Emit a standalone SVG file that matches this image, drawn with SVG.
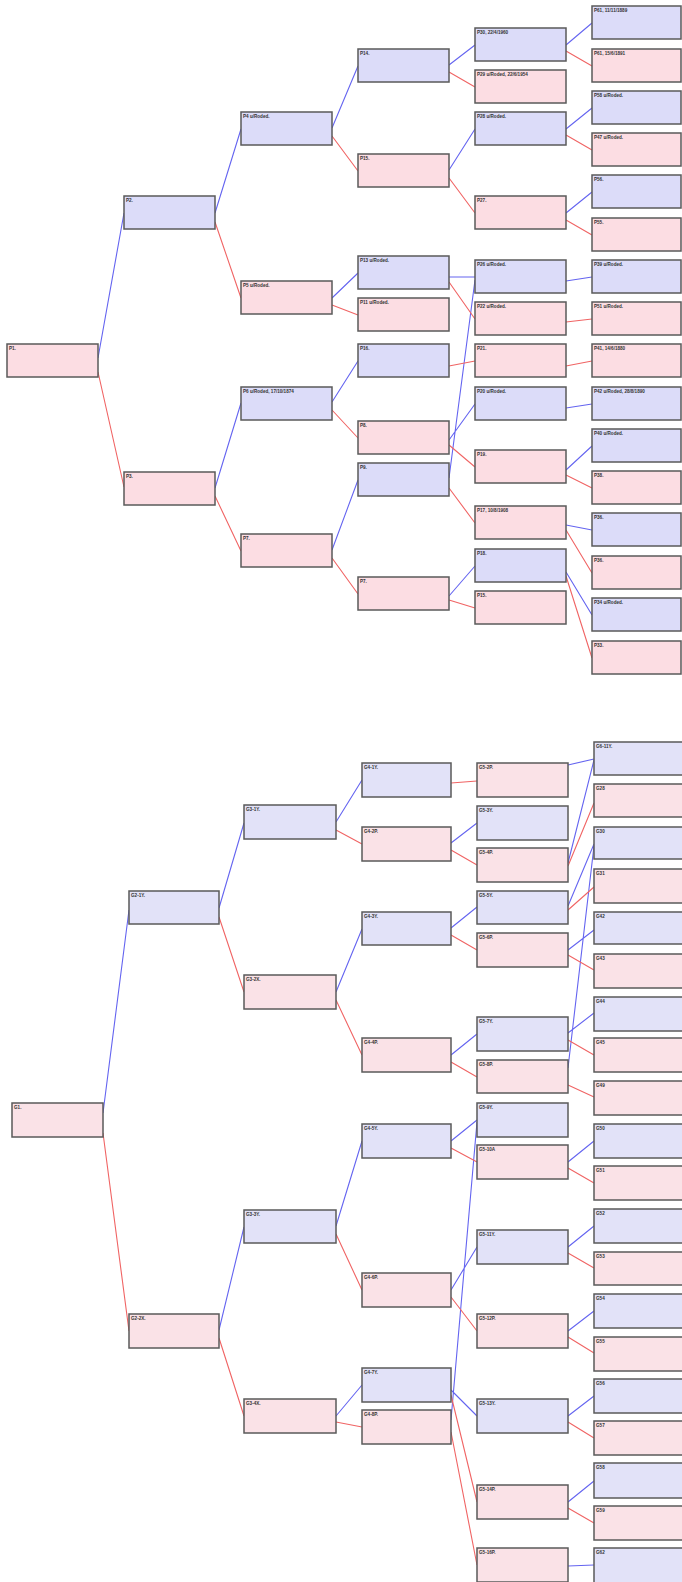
<svg xmlns="http://www.w3.org/2000/svg" width="682" height="1582" viewBox="0 0 682 1582">
<style>
rect{stroke:#5a5a5a;stroke-width:1.5}
.b{fill:#dcdcf9}.p{fill:#fcdde3}
.bb{fill:#e2e2f8}.pp{fill:#fae2e7}
text{font-family:"Liberation Sans",Arial,sans-serif;font-size:4.6px;font-weight:bold;fill:#333}
.lb{stroke:#6464f0;stroke-width:1.1;fill:none}
.lr{stroke:#f06464;stroke-width:1.1;fill:none}
</style>
<rect x="0" y="0" width="682" height="1582" style="fill:#fff;stroke:none"/>
<g id="connectors">
<g class="lb">
<path d="M98 358L124 213M215 213L241 129M215 488L241 403M332 128L358 66M332 298L358 273M332 402L358 361M332 550L358 480M449 65L475 45M449 170L475 129M449 277L475 277M449 440L475 404M449 478L475 280M449 596L475 566M566 45L592 23M566 129L592 108M566 213L592 192M566 281L592 277M566 408L592 404M566 470L592 446M566 525L592 530M566 572L592 615"/>
<path d="M103 1113L129 910M219 908L244 823M219 1330L244 1227M336 822L362 780M336 992L362 929M336 1226L362 1141M336 1416L362 1385M451 843L477 823M451 928L477 907M451 1055L477 1034M451 1141L477 1120M451 1290L477 1247M451 1390L477 1416M451 1420L477 1122M568 765L594 759M568 863L594 760M568 906L594 844M568 950L594 930M568 1033L594 1013M568 1068L594 846M568 1162L594 1141M568 1247L594 1226M568 1331L594 1311M568 1416L594 1396M568 1502L594 1481M568 1566L594 1565"/>
</g>
<g class="lr">
<path d="M98 372L124 487M215 222L241 298M215 496L241 551M332 136L358 171M332 305L358 315M332 410L358 438M332 558L358 594M449 72L475 87M449 178L475 213M449 282L475 319M449 366L475 361M449 445L475 467M449 488L475 523M449 600L475 608M566 51L592 66M566 135L592 150M566 220L592 235M566 322L592 319M566 366L592 361M566 475L592 488M566 530L592 573M566 576L592 658"/>
<path d="M103 1133L129 1331M219 917L244 992M219 1338L244 1416M336 830L362 844M336 1000L362 1055M336 1234L362 1290M336 1422L362 1427M451 783L477 781M451 850L477 865M451 935L477 950M451 1062L477 1077M451 1148L477 1162M451 1297L477 1331M451 1395L477 1502M451 1432L477 1565M568 866L594 803M568 910L594 887M568 955L594 970M568 1040L594 1055M568 1085L594 1097M568 1168L594 1183M568 1253L594 1268M568 1337L594 1353M568 1422L594 1438M568 1508L594 1523"/>
</g>
</g>
<g id="top-tree">
<g id="t-p1"><rect class="p" x="7" y="344" width="91" height="33"/><text x="9" y="349.5">P1.</text></g>
<g id="t-p2"><rect class="b" x="124" y="196" width="91" height="33"/><text x="126" y="201.5">P2.</text></g>
<g id="t-p3"><rect class="p" x="124" y="472" width="91" height="33"/><text x="126" y="477.5">P3.</text></g>
<g id="t-p4"><rect class="b" x="241" y="112" width="91" height="33"/><text x="243" y="117.5">P4 u/Roded.</text></g>
<g id="t-p5"><rect class="p" x="241" y="281" width="91" height="33"/><text x="243" y="286.5">P5 u/Roded.</text></g>
<g id="t-p6"><rect class="b" x="241" y="387" width="91" height="33"/><text x="243" y="392.5">P6 u/Roded, 17/10/1874</text></g>
<g id="t-p7"><rect class="p" x="241" y="534" width="91" height="33"/><text x="243" y="539.5">P7.</text></g>
<g id="t-p14"><rect class="b" x="358" y="49" width="91" height="33"/><text x="360" y="54.5">P14.</text></g>
<g id="t-p15"><rect class="p" x="358" y="154" width="91" height="33"/><text x="360" y="159.5">P15.</text></g>
<g id="t-p13"><rect class="b" x="358" y="256" width="91" height="33"/><text x="360" y="261.5">P13 u/Roded.</text></g>
<g id="t-p11"><rect class="p" x="358" y="298" width="91" height="33"/><text x="360" y="303.5">P11 u/Roded.</text></g>
<g id="t-p16"><rect class="b" x="358" y="344" width="91" height="33"/><text x="360" y="349.5">P16.</text></g>
<g id="t-p8"><rect class="p" x="358" y="421" width="91" height="33"/><text x="360" y="426.5">P8.</text></g>
<g id="t-p9"><rect class="b" x="358" y="463" width="91" height="33"/><text x="360" y="468.5">P9.</text></g>
<g id="t-p10"><rect class="p" x="358" y="577" width="91" height="33"/><text x="360" y="582.5">P7.</text></g>
<g id="t-p30"><rect class="b" x="475" y="28" width="91" height="33"/><text x="477" y="33.5">P30, 22/4/1960</text></g>
<g id="t-p29"><rect class="p" x="475" y="70" width="91" height="33"/><text x="477" y="75.5">P29 u/Roded, 22/6/1954</text></g>
<g id="t-p28"><rect class="b" x="475" y="112" width="91" height="33"/><text x="477" y="117.5">P28 u/Roded.</text></g>
<g id="t-p27"><rect class="p" x="475" y="196" width="91" height="33"/><text x="477" y="201.5">P27.</text></g>
<g id="t-p26"><rect class="b" x="475" y="260" width="91" height="33"/><text x="477" y="265.5">P26 u/Roded.</text></g>
<g id="t-p22"><rect class="p" x="475" y="302" width="91" height="33"/><text x="477" y="307.5">P22 u/Roded.</text></g>
<g id="t-p21"><rect class="p" x="475" y="344" width="91" height="33"/><text x="477" y="349.5">P21.</text></g>
<g id="t-p20"><rect class="b" x="475" y="387" width="91" height="33"/><text x="477" y="392.5">P20 u/Roded.</text></g>
<g id="t-p19"><rect class="p" x="475" y="450" width="91" height="33"/><text x="477" y="455.5">P19.</text></g>
<g id="t-p17"><rect class="p" x="475" y="506" width="91" height="33"/><text x="477" y="511.5">P17, 10/8/1908</text></g>
<g id="t-p18"><rect class="b" x="475" y="549" width="91" height="33"/><text x="477" y="554.5">P18.</text></g>
<g id="t-p12"><rect class="p" x="475" y="591" width="91" height="33"/><text x="477" y="596.5">P15.</text></g>
<g id="t-p61"><rect class="b" x="592" y="6" width="89" height="33"/><text x="594" y="11.5">P61, 11/11/1889</text></g>
<g id="t-p60"><rect class="p" x="592" y="49" width="89" height="33"/><text x="594" y="54.5">P61, 15/6/1891</text></g>
<g id="t-p58"><rect class="b" x="592" y="91" width="89" height="33"/><text x="594" y="96.5">P58 u/Roded.</text></g>
<g id="t-p57"><rect class="p" x="592" y="133" width="89" height="33"/><text x="594" y="138.5">P47 u/Roded.</text></g>
<g id="t-p56"><rect class="b" x="592" y="175" width="89" height="33"/><text x="594" y="180.5">P56.</text></g>
<g id="t-p55"><rect class="p" x="592" y="218" width="89" height="33"/><text x="594" y="223.5">P55.</text></g>
<g id="t-p52"><rect class="b" x="592" y="260" width="89" height="33"/><text x="594" y="265.5">P39 u/Roded.</text></g>
<g id="t-p51"><rect class="p" x="592" y="302" width="89" height="33"/><text x="594" y="307.5">P51 u/Roded.</text></g>
<g id="t-p41"><rect class="p" x="592" y="344" width="89" height="33"/><text x="594" y="349.5">P41, 14/6/1880</text></g>
<g id="t-p42"><rect class="b" x="592" y="387" width="89" height="33"/><text x="594" y="392.5">P42 u/Roded, 28/8/1890</text></g>
<g id="t-p40"><rect class="b" x="592" y="429" width="89" height="33"/><text x="594" y="434.5">P40 u/Roded.</text></g>
<g id="t-p38"><rect class="p" x="592" y="471" width="89" height="33"/><text x="594" y="476.5">P38.</text></g>
<g id="t-p36"><rect class="b" x="592" y="513" width="89" height="33"/><text x="594" y="518.5">P36.</text></g>
<g id="t-p35"><rect class="p" x="592" y="556" width="89" height="33"/><text x="594" y="561.5">P36.</text></g>
<g id="t-p34"><rect class="b" x="592" y="598" width="89" height="33"/><text x="594" y="603.5">P34 u/Roded.</text></g>
<g id="t-p33"><rect class="p" x="592" y="641" width="89" height="33"/><text x="594" y="646.5">P33.</text></g>
</g>
<g id="bottom-tree">
<g id="g1"><rect class="pp" x="12" y="1103" width="91" height="34"/><text x="14" y="1108.5">G1.</text></g>
<g id="g2-1"><rect class="bb" x="129" y="891" width="90" height="33"/><text x="131" y="896.5">G2-1Y.</text></g>
<g id="g2-2"><rect class="pp" x="129" y="1314" width="90" height="34"/><text x="131" y="1319.5">G2-2X.</text></g>
<g id="g3-1"><rect class="bb" x="244" y="805" width="92" height="34"/><text x="246" y="810.5">G3-1Y.</text></g>
<g id="g3-2"><rect class="pp" x="244" y="975" width="92" height="34"/><text x="246" y="980.5">G3-2X.</text></g>
<g id="g3-3"><rect class="bb" x="244" y="1210" width="92" height="33"/><text x="246" y="1215.5">G3-3Y.</text></g>
<g id="g3-4"><rect class="pp" x="244" y="1399" width="92" height="34"/><text x="246" y="1404.5">G3-4X.</text></g>
<g id="g4-1"><rect class="bb" x="362" y="763" width="89" height="34"/><text x="364" y="768.5">G4-1Y.</text></g>
<g id="g4-2"><rect class="pp" x="362" y="827" width="89" height="34"/><text x="364" y="832.5">G4-2P.</text></g>
<g id="g4-3"><rect class="bb" x="362" y="912" width="89" height="33"/><text x="364" y="917.5">G4-3Y.</text></g>
<g id="g4-4"><rect class="pp" x="362" y="1038" width="89" height="34"/><text x="364" y="1043.5">G4-4P.</text></g>
<g id="g4-5"><rect class="bb" x="362" y="1124" width="89" height="34"/><text x="364" y="1129.5">G4-5Y.</text></g>
<g id="g4-6"><rect class="pp" x="362" y="1273" width="89" height="34"/><text x="364" y="1278.5">G4-6P.</text></g>
<g id="g4-7"><rect class="bb" x="362" y="1368" width="89" height="34"/><text x="364" y="1373.5">G4-7Y.</text></g>
<g id="g4-8"><rect class="pp" x="362" y="1410" width="89" height="34"/><text x="364" y="1415.5">G4-8P.</text></g>
<g id="g5-2"><rect class="pp" x="477" y="763" width="91" height="34"/><text x="479" y="768.5">G5-2P.</text></g>
<g id="g5-3"><rect class="bb" x="477" y="806" width="91" height="34"/><text x="479" y="811.5">G5-3Y.</text></g>
<g id="g5-4"><rect class="pp" x="477" y="848" width="91" height="34"/><text x="479" y="853.5">G5-4P.</text></g>
<g id="g5-5"><rect class="bb" x="477" y="891" width="91" height="33"/><text x="479" y="896.5">G5-5Y.</text></g>
<g id="g5-6"><rect class="pp" x="477" y="933" width="91" height="34"/><text x="479" y="938.5">G5-6P.</text></g>
<g id="g5-7"><rect class="bb" x="477" y="1017" width="91" height="34"/><text x="479" y="1022.5">G5-7Y.</text></g>
<g id="g5-8"><rect class="pp" x="477" y="1060" width="91" height="33"/><text x="479" y="1065.5">G5-8P.</text></g>
<g id="g5-9"><rect class="bb" x="477" y="1103" width="91" height="34"/><text x="479" y="1108.5">G5-9Y.</text></g>
<g id="g5-10"><rect class="pp" x="477" y="1145" width="91" height="34"/><text x="479" y="1150.5">G5-10A</text></g>
<g id="g5-11"><rect class="bb" x="477" y="1230" width="91" height="34"/><text x="479" y="1235.5">G5-11Y.</text></g>
<g id="g5-12"><rect class="pp" x="477" y="1314" width="91" height="34"/><text x="479" y="1319.5">G5-12P.</text></g>
<g id="g5-13"><rect class="bb" x="477" y="1399" width="91" height="34"/><text x="479" y="1404.5">G5-13Y.</text></g>
<g id="g5-14"><rect class="pp" x="477" y="1485" width="91" height="34"/><text x="479" y="1490.5">G5-14P.</text></g>
<g id="g5-16"><rect class="pp" x="477" y="1548" width="91" height="34"/><text x="479" y="1553.5">G5-16P.</text></g>
<g id="g6-1"><rect class="bb" x="594" y="742" width="92" height="33"/><text x="596" y="747.5">G6-11Y.</text></g>
<g id="g6-2"><rect class="pp" x="594" y="784" width="92" height="33"/><text x="596" y="789.5">G28</text></g>
<g id="g6-3"><rect class="bb" x="594" y="827" width="92" height="32"/><text x="596" y="832.5">G30</text></g>
<g id="g6-4"><rect class="pp" x="594" y="869" width="92" height="34"/><text x="596" y="874.5">G31</text></g>
<g id="g6-5"><rect class="bb" x="594" y="912" width="92" height="32"/><text x="596" y="917.5">G42</text></g>
<g id="g6-6"><rect class="pp" x="594" y="954" width="92" height="34"/><text x="596" y="959.5">G43</text></g>
<g id="g6-7"><rect class="bb" x="594" y="997" width="92" height="34"/><text x="596" y="1002.5">G44</text></g>
<g id="g6-8"><rect class="pp" x="594" y="1038" width="92" height="34"/><text x="596" y="1043.5">G45</text></g>
<g id="g6-9"><rect class="pp" x="594" y="1081" width="92" height="34"/><text x="596" y="1086.5">G49</text></g>
<g id="g6-10"><rect class="bb" x="594" y="1124" width="92" height="34"/><text x="596" y="1129.5">G50</text></g>
<g id="g6-11"><rect class="pp" x="594" y="1166" width="92" height="34"/><text x="596" y="1171.5">G51</text></g>
<g id="g6-12"><rect class="bb" x="594" y="1209" width="92" height="34"/><text x="596" y="1214.5">G52</text></g>
<g id="g6-13"><rect class="pp" x="594" y="1252" width="92" height="33"/><text x="596" y="1257.5">G53</text></g>
<g id="g6-14"><rect class="bb" x="594" y="1294" width="92" height="34"/><text x="596" y="1299.5">G54</text></g>
<g id="g6-15"><rect class="pp" x="594" y="1337" width="92" height="34"/><text x="596" y="1342.5">G55</text></g>
<g id="g6-16"><rect class="bb" x="594" y="1379" width="92" height="34"/><text x="596" y="1384.5">G56</text></g>
<g id="g6-17"><rect class="pp" x="594" y="1421" width="92" height="34"/><text x="596" y="1426.5">G57</text></g>
<g id="g6-18"><rect class="bb" x="594" y="1463" width="92" height="35"/><text x="596" y="1468.5">G58</text></g>
<g id="g6-19"><rect class="pp" x="594" y="1506" width="92" height="34"/><text x="596" y="1511.5">G59</text></g>
<g id="g6-20"><rect class="bb" x="594" y="1548" width="92" height="36"/><text x="596" y="1553.5">G62</text></g>
</g>
</svg>
